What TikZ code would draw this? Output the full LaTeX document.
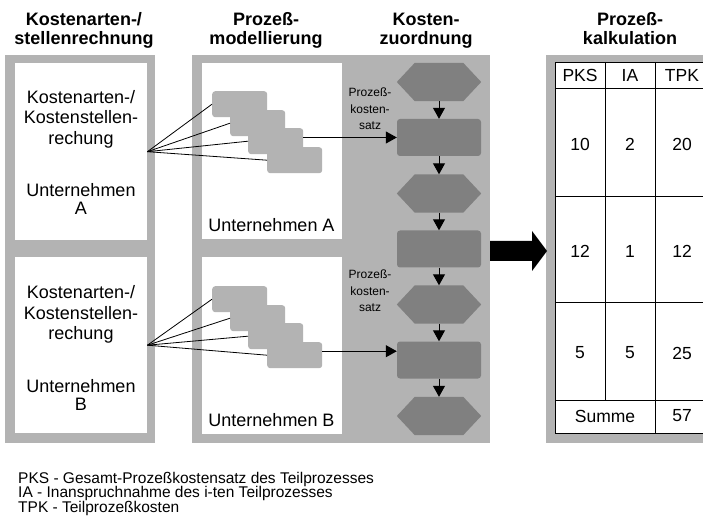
\documentclass[tikz,border=0pt]{standalone}
\usepackage{fontspec}
\setmainfont{Liberation Sans}
\usetikzlibrary{arrows.meta,calc}
\definecolor{panelgray}{HTML}{B3B3B3}
\definecolor{blockgray}{HTML}{808080}

\begin{document}
\begin{tikzpicture}[x=1pt,y=-1pt,
  panel/.style={fill=panelgray, draw=none, inner sep=0pt, anchor=north west},
  sheet/.style={fill=white, draw=none, inner sep=0pt, anchor=north west},
  activity/.style={fill=panelgray, rounded corners=3pt, minimum width=55pt, minimum height=26pt, inner sep=0pt, anchor=north west},
  costblock/.style={fill=blockgray, rounded corners=3pt, minimum width=84pt, minimum height=37pt, inner sep=0pt},
  hexslot/.style={minimum width=84pt, minimum height=38pt, inner sep=0pt},
  flow/.style={line width=1pt, -{Triangle[width=12pt,length=11pt]}},
  fan/.style={line width=0.8pt},
  head/.style={font=\bfseries\fontsize{18}{21}\selectfont, inner sep=0pt, anchor=base},
  body/.style={font=\fontsize{18}{21}\selectfont, inner sep=0pt, anchor=base},
  small/.style={font=\fontsize{12}{16.5}\selectfont, inner sep=0pt, anchor=base},
  cell/.style={font=\fontsize{17.5}{20}\selectfont, inner sep=0pt},
  legend/.style={font=\fontsize{15.5}{14.5}\selectfont, inner sep=0pt, anchor=base west},
  grid/.style={line width=1pt, draw=black},
]

\useasboundingbox (0,0) rectangle (703,518);
\fill[white] (0,0) rectangle (703,518);

% column headings
\node[head] (t1a) at (84,26) {Kostenarten-/};
\node[head] (t1b) at (84,45) {stellenrechnung};
\node[head] (t2a) at (266,26) {Prozeß-};
\node[head] (t2b) at (266,45) {modellierung};
\node[head] (t3a) at (426,26) {Kosten-};
\node[head] (t3b) at (426,45) {zuordnung};
\node[head] (t4a) at (630,26) {Prozeß-};
\node[head] (t4b) at (630,45) {kalkulation};

% grey panels
\node[panel, minimum width=150pt, minimum height=388pt] (pL) at (5,55) {};
\node[panel, minimum width=298pt, minimum height=388pt] (pM) at (192,55) {};
\node[panel, minimum width=170pt, minimum height=388pt] (pR) at (546,55) {};

% white sheets
\node[sheet, minimum width=132pt, minimum height=177pt] (lA) at (15,63) {};
\node[sheet, minimum width=132pt, minimum height=176pt] (lB) at (15,257) {};
\node[sheet, minimum width=140pt, minimum height=176pt] (mA) at (202,63) {};
\node[sheet, minimum width=140pt, minimum height=177pt] (mB) at (202,257) {};

% cost accounting texts
\foreach \g/\oy/\u in {A/0/A,B/195/B} {
  \node[body] (k1\g) at (81,{103.5+\oy}) {Kostenarten-/};
  \node[body] (k2\g) at (81,{124+\oy}) {Kostenstellen-};
  \node[body] (k3\g) at (81,{144.5+\oy}) {rechung};
  \node[body] (k4\g) at (81,{197+\oy}) {Unternehmen};
  \node[body] (k5\g) at (81,{215+\oy}) {\u};
  \node[body] (u\g) at (271.5,{231.5+\oy}) {Unternehmen \u};
}

% stacked activities of the process model
\foreach \g/\oy in {A/0,B/195} {
  \node[activity] (a1\g) at (212,{91+\oy}) {};
  \node[activity] (a2\g) at (230,{110+\oy}) {};
  \node[activity] (a3\g) at (248,{128+\oy}) {};
  \node[activity] (a4\g) at (267,{147+\oy}) {};
  \foreach \i in {1,2,3,4}
    \draw[fan] (l\g.east) -- (a\i\g.west);
}

% cost assignment chain
\node[hexslot] (h1) at (439,82) {};
\node[costblock] (r1) at (439,137.5) {};
\node[hexslot] (h2) at (439,193.5) {};
\node[costblock] (r2) at (439,249) {};
\node[hexslot] (h3) at (439,304.5) {};
\node[costblock] (r3) at (439,360) {};
\node[hexslot] (h4) at (439,416) {};
\foreach \h in {h1,h2,h3,h4}
  \fill[blockgray] (\h.west) -- ([xshift=18pt]\h.north west) -- ([xshift=-18pt]\h.north east)
    -- (\h.east) -- ([xshift=-18pt]\h.south east) -- ([xshift=18pt]\h.south west) -- cycle;

\draw[flow] (h1) -- (r1);
\draw[flow] (r1) -- (h2);
\draw[flow] (h2) -- (r2);
\draw[flow] (r2) -- (h3);
\draw[flow] (h3) -- (r3);
\draw[flow] (r3) -- (h4);

\draw[flow] (a3A.east |- r1) -- (r1);
\draw[flow] ([yshift=4pt]a4B.east) -- ([yshift=4pt]a4B.east -| r3.west);

% rate labels
\foreach \g/\oy in {A/0,B/181} {
  \node[small] (s1\g) at (370,{97+\oy}) {Prozeß-};
  \node[small] (s2\g) at (370,{114+\oy}) {kosten-};
  \node[small] (s3\g) at (370,{130+\oy}) {satz};
}

% block arrow into the calculation
\coordinate (bA) at (490,251);
\coordinate (bB) at (547,251);
\fill[black] (490,241) -- (532,241) -- (532,231) -- (bB) -- (532,271) -- (532,261) -- (490,261) -- cycle;

% calculation table
\node[sheet, grid, minimum width=160pt, minimum height=371pt] (tab) at (555,62) {};
\foreach \yy in {89,197,302,400}
  \draw[grid] (555,\yy) -- (715,\yy);
\draw[grid] (605,62) -- (605,400);
\draw[grid] (655,62) -- (655,433);

\node[cell] (c11) at (580,75.5) {PKS};
\node[cell] (c12) at (630,75.5) {IA};
\node[cell] (c13) at (682,75.5) {TPK};
\node[cell] (c21) at (580,144) {10};
\node[cell] (c22) at (630,144) {2};
\node[cell] (c23) at (682,144) {20};
\node[cell] (c31) at (580,251) {12};
\node[cell] (c32) at (630,251) {1};
\node[cell] (c33) at (682,251) {12};
\node[cell] (c41) at (580,353) {5};
\node[cell] (c42) at (630,353) {5};
\node[cell] (c43) at (682,353) {25};
\node[cell] (c51) at (605,416) {Summe};
\node[cell] (c53) at (682,416) {57};

% legend
\node[legend] (g1) at (18,483) {PKS - Gesamt-Prozeßkostensatz des Teilprozesses};
\node[legend] (g2) at (18,497.5) {IA - Inanspruchnahme des i-ten Teilprozesses};
\node[legend] (g3) at (18,512) {TPK - Teilprozeßkosten};

\end{tikzpicture}
\end{document}
